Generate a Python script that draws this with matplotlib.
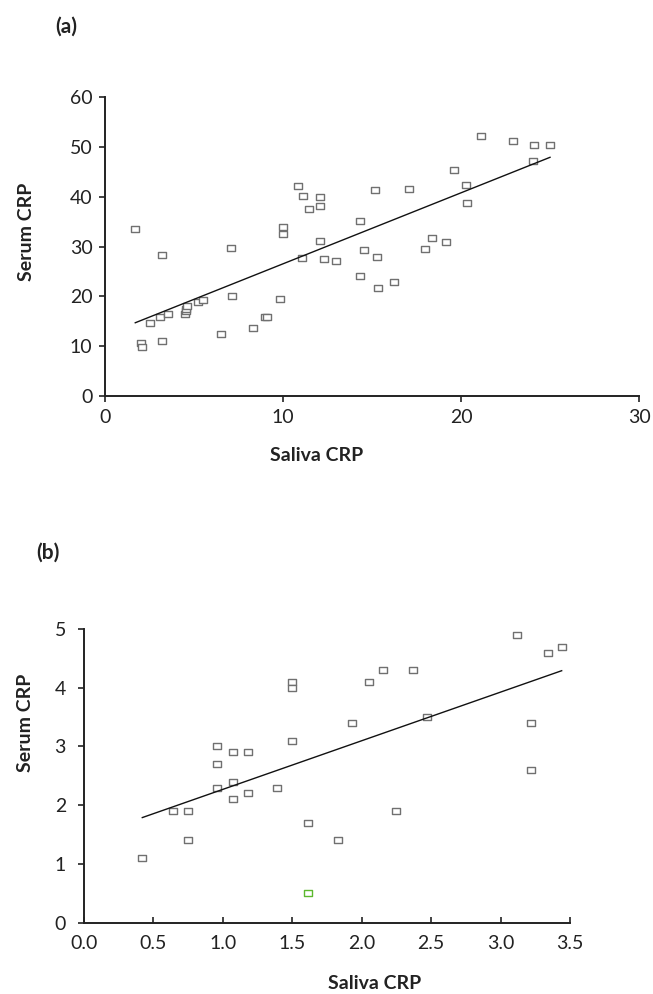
import matplotlib.pyplot as plt
from matplotlib.path import Path

plt.rcParams['font.family'] = ['Lato', 'DejaVu Sans']

# panel (a)
saliva_a = [1.7, 3.2, 7.1, 2.05, 2.1, 3.2, 2.5, 3.1, 3.55, 4.5, 4.55, 4.55, 4.6,
            5.2, 5.5, 7.15, 6.5, 8.3, 9.0, 9.1, 9.85, 10.0, 10.0, 10.85, 11.1,
            11.45, 12.1, 12.1, 12.1, 11.05, 12.3, 13.0, 14.3, 14.3, 14.55, 15.15,
            15.3, 15.35, 17.1, 16.25, 18.0, 18.35, 19.15, 19.6, 20.3, 20.35,
            21.1, 22.9, 24.1, 25.0, 24.05]
serum_a = [33.6, 28.3, 29.8, 10.6, 9.9, 11.1, 14.6, 15.8, 16.4, 16.5, 17.0, 17.5, 18.1,
           18.8, 19.2, 20.1, 12.4, 13.7, 15.9, 15.8, 19.4, 34.0, 32.5, 42.2, 40.2,
           37.6, 40.0, 38.2, 31.1, 27.6, 27.4, 27.0, 35.1, 24.1, 29.4, 41.3,
           27.8, 21.7, 41.5, 22.8, 29.6, 31.7, 30.9, 45.3, 42.4, 38.7,
           52.2, 51.2, 50.4, 50.4, 47.1]
fit_a_x = [1.7, 25.0]
fit_a_y = [14.7, 47.9]

# panel (b)
saliva_b = [0.42, 0.64, 0.75, 0.75, 0.96, 0.96, 0.96, 1.07, 1.07, 1.07, 1.18, 1.18,
            1.39, 1.50, 1.50, 1.50, 1.61, 1.83, 1.93, 2.05, 2.15, 2.37, 2.47, 2.25,
            3.12, 3.34, 3.44, 3.22, 3.22]
serum_b = [1.1, 1.9, 1.9, 1.4, 3.0, 2.7, 2.3, 2.9, 2.4, 2.1, 2.9, 2.2,
           2.3, 4.1, 4.0, 3.1, 1.7, 1.4, 3.4, 4.1, 4.3, 4.3, 3.5, 1.9,
           4.9, 4.6, 4.7, 3.4, 2.6]
outlier_b_x = [1.61]
outlier_b_y = [0.5]
fit_b_x = [0.42, 3.44]
fit_b_y = [1.79, 4.29]

box = Path([(-1, -0.62), (1, -0.62), (1, 0.62), (-1, 0.62), (-1, -0.62)],
           [Path.MOVETO, Path.LINETO, Path.LINETO, Path.LINETO, Path.CLOSEPOLY])

fig = plt.figure(figsize=(6.53, 9.94), dpi=100)
ax1 = fig.add_axes([0.1608, 0.6016, 0.8178, 0.3008])
ax2 = fig.add_axes([0.1286, 0.0717, 0.7443, 0.2955])

for ax in (ax1, ax2):
    for s in ('top', 'right'):
        ax.spines[s].set_visible(False)
    for s in ('left', 'bottom'):
        ax.spines[s].set_linewidth(1.4)
        ax.spines[s].set_color('#222222')

ax1.plot(saliva_a, serum_a, ls='none', marker=box, ms=6.0, mfc='white',
         mec='#707070', mew=1.0)
ax1.plot(fit_a_x, fit_a_y, color='#111111', lw=1.0)
ax1.set_xlim(0, 30)
ax1.set_ylim(0, 60)
ax1.set_xticks([0, 10, 20, 30])
ax1.set_yticks(range(0, 61, 10))
ax1.tick_params(direction='out', length=4, width=1.2, labelsize=14, pad=5,
                colors='#222222')
ax1.set_xlabel('Saliva CRP', fontsize=14, fontweight='bold', color='#222222')
ax1.set_ylabel('Serum CRP', fontsize=14, fontweight='bold', color='#222222')
ax1.xaxis.set_label_coords(0.397, -0.17)
ax1.yaxis.set_label_coords(-0.131, 0.55)

ax2.plot(saliva_b, serum_b, ls='none', marker=box, ms=6.0, mfc='white',
         mec='#707070', mew=1.0)
ax2.plot(outlier_b_x, outlier_b_y, ls='none', marker=box, ms=6.0, mfc='white',
         mec='#5cb82e', mew=1.0)
ax2.plot(fit_b_x, fit_b_y, color='#111111', lw=1.0)
ax2.set_xlim(0, 3.5)
ax2.set_ylim(0, 5)
ax2.set_xticks([0, 0.5, 1.0, 1.5, 2.0, 2.5, 3.0, 3.5])
ax2.set_xticklabels(['0.0', '0.5', '1.0', '1.5', '2.0', '2.5', '3.0', '3.5'])
ax2.set_yticks(range(0, 6))
ax2.tick_params(axis='x', direction='in', length=4, width=1.2, labelsize=14,
                pad=9, colors='#222222')
ax2.tick_params(axis='y', direction='out', length=4, width=1.2, labelsize=14,
                pad=9, colors='#222222')
ax2.set_xlabel('Saliva CRP', fontsize=14, fontweight='bold', color='#222222')
ax2.set_ylabel('Serum CRP', fontsize=14, fontweight='bold', color='#222222')
ax2.xaxis.set_label_coords(0.597, -0.178)
ax2.yaxis.set_label_coords(-0.103, 0.68)

fig.text(0.101, 0.973, '(a)', fontsize=15, fontweight='bold', color='#222222',
         ha='center', va='center')
fig.text(0.073, 0.444, '(b)', fontsize=15, fontweight='bold', color='#222222',
         ha='center', va='center')

fig.savefig('out.png', dpi=100)
